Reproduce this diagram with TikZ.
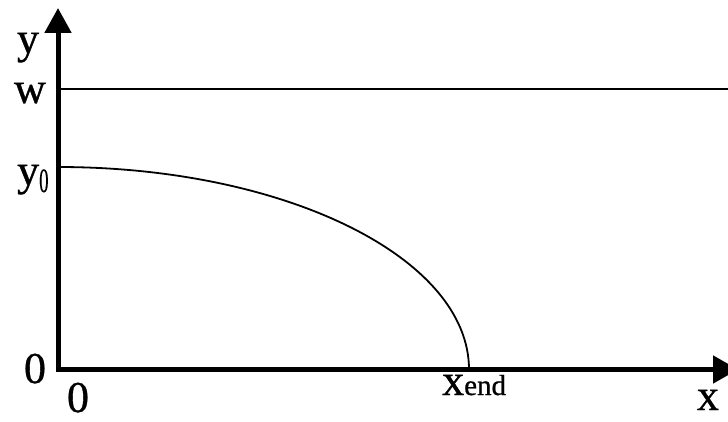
\documentclass[tikz,border=0pt]{standalone}
\usepackage{fontspec}
\setmainfont{Liberation Serif}
\newfontfamily\lblfont[FakeBold=0.8]{Liberation Serif}
\usetikzlibrary{arrows.meta}
\begin{document}
\begin{tikzpicture}[x=1pt,y=1pt,
  lbl/.style={inner sep=0pt,anchor=base,font=\lblfont\fontsize{44}{48}\selectfont},
  axis/.style={line width=5pt,line join=miter,{Triangle[length=25pt,width=26pt]}-{Triangle[length=25pt,width=27pt]}},
  thin/.style={line width=1.8pt}]
\useasboundingbox (0,0) rectangle (728,421);
\coordinate (ytip) at (58,413);
\coordinate (o) at (58,51.5);
\coordinate (xtip) at (738,51.5);
\coordinate (wl) at (58,332);
\coordinate (wr) at (728,332);
\coordinate (c0) at (58,254);
\draw[axis] (ytip) -- (o) -- (xtip);
\draw[thin] (wl) -- (wr);
\draw[thin] (c0) arc[start angle=90,end angle=0,x radius=411,y radius=202.5];
\node[lbl] (ly) at (28,368) {y};
\node[lbl] (lw) at (30,318) {w};
\node[lbl,anchor=base west] (ly0) at (17,236) {y\raisebox{-7pt}{\scalebox{0.55}[1]{\fontsize{34}{34}\selectfont 0}}};
\node[lbl] (l0a) at (35,38) {0};
\node[lbl] (l0b) at (78,9) {0};
\node[lbl,anchor=base west] (lxe) at (442,26) {x{\fontsize{29}{30}\selectfont end}};
\node[lbl] (lx) at (708,11) {x};
\end{tikzpicture}
\end{document}
